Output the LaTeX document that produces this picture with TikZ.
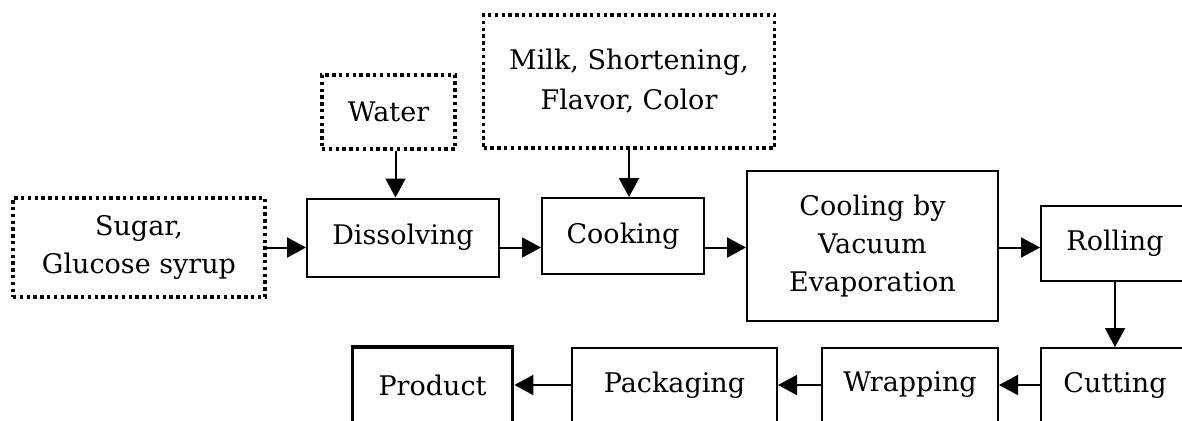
\documentclass[tikz,border=0pt]{standalone}
\usepackage{fontspec}
\setmainfont{DejaVu Serif}
\usetikzlibrary{arrows.meta,calc}
\begin{document}
\begin{tikzpicture}[x=1pt,y=-1pt,
  every node/.style={font=\fontsize{27}{38}\selectfont, align=center, inner sep=0pt},
  stepbox/.style={draw, line width=2pt, rectangle},
  inputbox/.style={draw, line width=3.4pt, dash pattern=on 3.4pt off 3.4pt, rectangle},
  finalbox/.style={draw, line width=3.8pt, rectangle},
  flow/.style={line width=2pt, -{Triangle[length=19pt,width=20pt]}}]
  \useasboundingbox (0,0) rectangle (1182,420);
  \clip (0,0) rectangle (1182,420);

  % raw materials
  \node[inputbox, minimum width=252pt, minimum height=99pt] (sugar) at (139,247.5) {Sugar,\\Glucose syrup};
  \node[inputbox, minimum width=133pt, minimum height=74pt] (water) at (388.5,112) {Water};
  \node[inputbox, minimum width=291pt, minimum height=133pt] (milk) at (629,81.5) {Milk, Shortening,\\[2pt]Flavor, Color};

  % upper process line
  \node[stepbox, minimum width=192pt, minimum height=78pt] (diss) at (403,237.5) {Dissolving};
  \node[stepbox, minimum width=162pt, minimum height=76pt] (cook) at (623,236) {Cooking};
  \node[stepbox, minimum width=251pt, minimum height=150pt] (cool) at (872.5,246) {Cooling by\\Vacuum\\Evaporation};
  \node[stepbox, minimum width=148pt, minimum height=75pt] (roll) at (1115,243.5) {Rolling};

  % lower process line
  \node[stepbox, minimum width=148pt, minimum height=74pt] (cut) at (1115,385) {Cutting};
  \node[stepbox, minimum width=176pt, minimum height=74pt] (wrap) at (910,385) {Wrapping};
  \node[stepbox, minimum width=205pt, minimum height=74pt] (pack) at (674.5,385) {Packaging};
  \node[finalbox, minimum width=160pt, minimum height=76pt] (prod) at (432.5,385) {Product};

  % connectors
  \draw[flow] (sugar.east) -- (sugar.east -| diss.west);
  \draw[flow] ($(water.south)+(7,0)$) coordinate (w) -- (w |- diss.north);
  \draw[flow] (diss.east |- sugar.east) -- (cook.west |- sugar.east);
  \draw[flow] (milk.south) -- (milk.south |- cook.north);
  \draw[flow] (cook.east |- sugar.east) -- (cool.west |- sugar.east);
  \draw[flow] (cool.east |- sugar.east) -- (roll.west |- sugar.east);
  \draw[flow] (roll.south) -- (cut.north);
  \draw[flow] (cut.west) -- (wrap.east);
  \draw[flow] (wrap.west) -- (pack.east);
  \draw[flow] (pack.west) -- (prod.east);
\end{tikzpicture}
\end{document}
